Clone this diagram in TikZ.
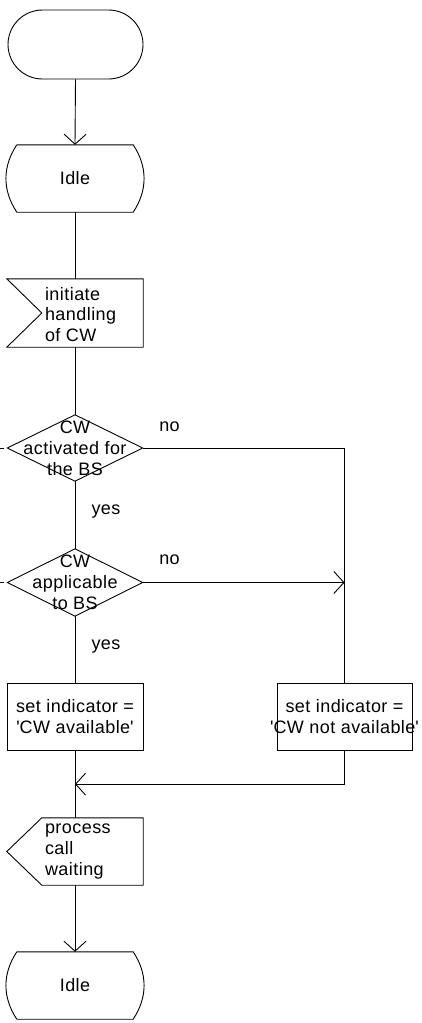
\documentclass[tikz,border=0pt]{standalone}
\usepackage{fontspec}
\setmainfont[LetterSpace=2.5]{Liberation Sans}
\usetikzlibrary{arrows.meta,calc}

% outline of an SDL state symbol: straight top and bottom, bulging sides
\newcommand\sdlstateoutline[1]{%
  \draw[sdlline] (#1.north west) -- (#1.north east)
    .. controls +(14.5,22) and +(14.5,-22) .. (#1.south east)
    -- (#1.south west)
    .. controls +(-14.5,-22) and +(-14.5,22) .. (#1.north west);}
\newcommand\sq{\textquotesingle}

\begin{document}
\begin{tikzpicture}[x=1pt,y=-1pt,
  sdlline/.style={line width=0.9pt,black},
  flow/.style={sdlline},
  flowarrow/.style={sdlline,-{Straight Barb[length=10pt,width=22pt]}},
  sdltext/.style={font=\fontsize{18}{20.8}\selectfont},
  frame/.style={sdltext,inner sep=0pt,align=center},
  sdlstate/.style={frame,minimum width=116pt,minimum height=67pt},
  sdlbox/.style={frame,draw,sdlline,minimum width=136pt,minimum height=67pt},
  sdlshape/.style={frame,minimum width=136pt,minimum height=67pt},
  lbl/.style={sdltext,inner sep=0pt,anchor=base}]

\useasboundingbox (0,0) rectangle (421,1023);

% start symbol
\node[frame,draw,sdlline,minimum width=135pt,minimum height=69pt,
      rounded corners=34.5pt] (start) at (75.5,44.5) {};

% first state
\node[sdlstate] (idle1) at (75,178.5) {Idle};
\sdlstateoutline{idle1}

% input signal
\node[sdlshape,minimum height=68pt] (in1) at (75,313) {};
\draw[sdlline] (in1.north west) -- (in1.north east) -- (in1.south east)
  -- (in1.south west) -- ([xshift=35pt]in1.west) -- cycle;
\node[sdltext,inner sep=0pt,anchor=west,align=left] (in1txt)
  at ([xshift=38pt,yshift=-1.5pt]in1.west) {initiate\\handling\\of CW};

% first decision
\node[frame,minimum width=135pt,minimum height=66pt] (d1) at (75,448)
  {CW\\activated for\\the BS};
\draw[sdlline] (d1.north) -- (d1.east) -- (d1.south) -- (d1.west) -- cycle;

% second decision
\node[frame,minimum width=135pt,minimum height=67pt] (d2) at (75,582.5)
  {CW\\applicable\\to BS};
\draw[sdlline] (d2.north) -- (d2.east) -- (d2.south) -- (d2.west) -- cycle;

% tasks
\node[sdlbox] (av) at (75,716.5) {set indicator =\\\sq CW available\sq};
\node[sdlbox,minimum width=135pt] (na) at (344.5,716.5) {};
\node[frame] (natxt) at (na.center) {set indicator =\\\sq CW not available\sq};

% output signal
\node[sdlshape] (out1) at (75,851.5) {};
\draw[sdlline] ([xshift=35pt]out1.north west) -- (out1.north east)
  -- (out1.south east) -- ([xshift=35pt]out1.south west)
  -- (out1.west) -- cycle;
\node[sdltext,inner sep=0pt,anchor=west,align=left] (out1txt)
  at ([xshift=38pt]out1.west) {process\\call\\waiting};

% final state
\node[sdlstate] (idle2) at (75,985.5) {Idle};
\sdlstateoutline{idle2}

% junction points
\coordinate (j2) at (d2.east -| na.north);
\coordinate (j3) at ($(av.south)!0.5!(out1.north)$);
\coordinate (x1) at (0,448);
\coordinate (x2) at (0,582.5);

% connectors
\draw[flowarrow] (start.south) -- (idle1.north);
\draw[flow] (idle1.south) -- (in1.north);
\draw[flow] (in1.south) -- (d1.north);
\draw[flow] (d1.south) -- (d2.north);
\draw[flow] (d1.east) -| (na.north);
\draw[flowarrow] (d2.east) -- (j2);
\draw[flow] (d2.south) -- (av.north);
\draw[flowarrow] (na.south) |- (j3);
\draw[flow] (av.south) -- (out1.north);
\draw[flowarrow] (out1.south) -- (idle2.north);
\draw[flow] (x1) -- ++(3.5,0);
\draw[flow] (x2) -- ++(3.5,0);

% branch labels
\node[lbl] (no1) at (169.5,431) {no};
\node[lbl] (yes1) at (106,514) {yes};
\node[lbl] (no2) at (169.5,564) {no};
\node[lbl] (yes2) at (106,649) {yes};

\end{tikzpicture}
\end{document}
